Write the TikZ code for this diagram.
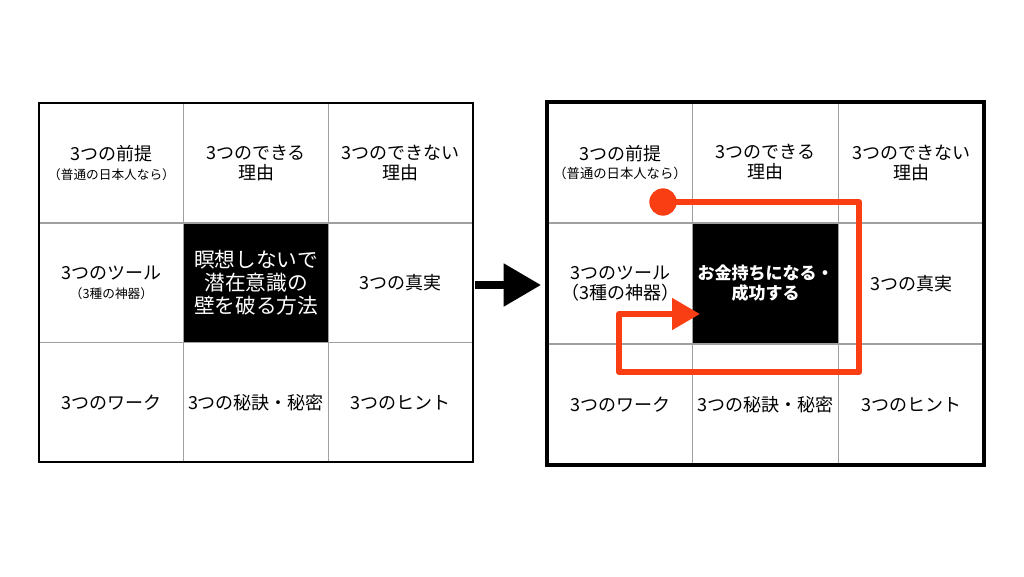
\documentclass[tikz,border=0pt]{standalone}
\usepackage{fontspec}
\setmainfont{Noto Sans CJK JP}
\usetikzlibrary{arrows.meta}
\definecolor{accent}{RGB}{250,62,20}
\definecolor{gridgray}{RGB}{160,160,160}
\begin{document}
\begin{tikzpicture}[x=0.75pt,y=-0.75pt,
  cellL/.style={draw=gridgray, line width=0.8pt, minimum width=108.5pt, minimum height=89.8pt, inner sep=0pt, align=center, font=\fontsize{13.5}{15}\selectfont},
  cellR/.style={draw=gridgray, line width=0.8pt, minimum width=109.3pt, minimum height=90.75pt, inner sep=0pt, align=center, font=\fontsize{13.5}{15}\selectfont},
  core/.style={fill=black, text=white},
  pathline/.style={draw=accent, line width=4.5pt, line join=round},
  bigarrow/.style={draw=black, line width=5.5pt, -{Triangle[length=28pt,width=31pt]}}
]
\useasboundingbox (0,0) rectangle (1024,576);

% left grid
\node[cellL] (L11) at (111.5,163) {3つの前提\\[-1pt]{\fontsize{9.5}{11}\selectfont （普通の日本人なら）}};
\node[cellL] (L12) at (256,163) {3つのできる\\理由};
\node[cellL] (L13) at (400.5,163) {3つのできない\\理由};
\node[cellL] (L21) at (111.5,283) {3つのツール\\[-1pt]{\fontsize{9.5}{11}\selectfont （3種の神器）}};
\node[cellL, core, font=\fontsize{15.5}{17.3}\selectfont] (L22) at (256,283) {瞑想しないで\\潜在意識の\\壁を破る方法};
\node[cellL] (L23) at (400.5,283) {3つの真実};
\node[cellL] (L31) at (111.5,402.5) {3つのワーク};
\node[cellL] (L32) at (256,402.5) {3つの秘訣・秘密};
\node[cellL] (L33) at (400.5,402.5) {3つのヒント};
\node[draw=black, line width=1.5pt, minimum width=325.5pt, minimum height=269.25pt, inner sep=0pt] (LB) at (256,282.5) {};

% right grid
\node[cellR] (R11) at (620,162.5) {3つの前提\\[-1pt]{\fontsize{10}{11}\selectfont （普通の日本人なら）}};
\node[cellR] (R12) at (765.5,162.5) {3つのできる\\理由};
\node[cellR] (R13) at (911,162.5) {3つのできない\\理由};
\node[cellR] (R21) at (620,283.5) {3つのツール\\（3種の神器）};
\node[cellR, core, font=\bfseries\fontsize{12.75}{15}\selectfont] (R22) at (765.5,283.5) {お金持ちになる・\\成功する};
\node[cellR] (R23) at (911,283.5) {3つの真実};
\node[cellR] (R31) at (620,404.5) {3つのワーク};
\node[cellR] (R32) at (765.5,404.5) {3つの秘訣・秘密};
\node[cellR] (R33) at (911,404.5) {3つのヒント};
\node[draw=black, line width=3.5pt, minimum width=327.75pt, minimum height=272.25pt, inner sep=0pt] (RB) at (765.5,283.5) {};

% middle arrow
\coordinate (mstart) at (475,285);
\coordinate (mend) at (541,285);
\draw[bigarrow] (mstart) -- (mend);

% orange path
\node[circle, fill=accent, minimum size=20.5pt, inner sep=0pt] (dot) at (663,202) {};
\coordinate (c1) at (859,202);
\coordinate (c2) at (859,372);
\coordinate (c3) at (619,372);
\coordinate (c4) at (619,314);
\coordinate (tip) at (700,314);
\draw[pathline, -{Triangle[length=21pt,width=23pt]}] (dot.center) -- (c1) -- (c2) -- (c3) -- (c4) -- (tip);
\end{tikzpicture}
\end{document}
